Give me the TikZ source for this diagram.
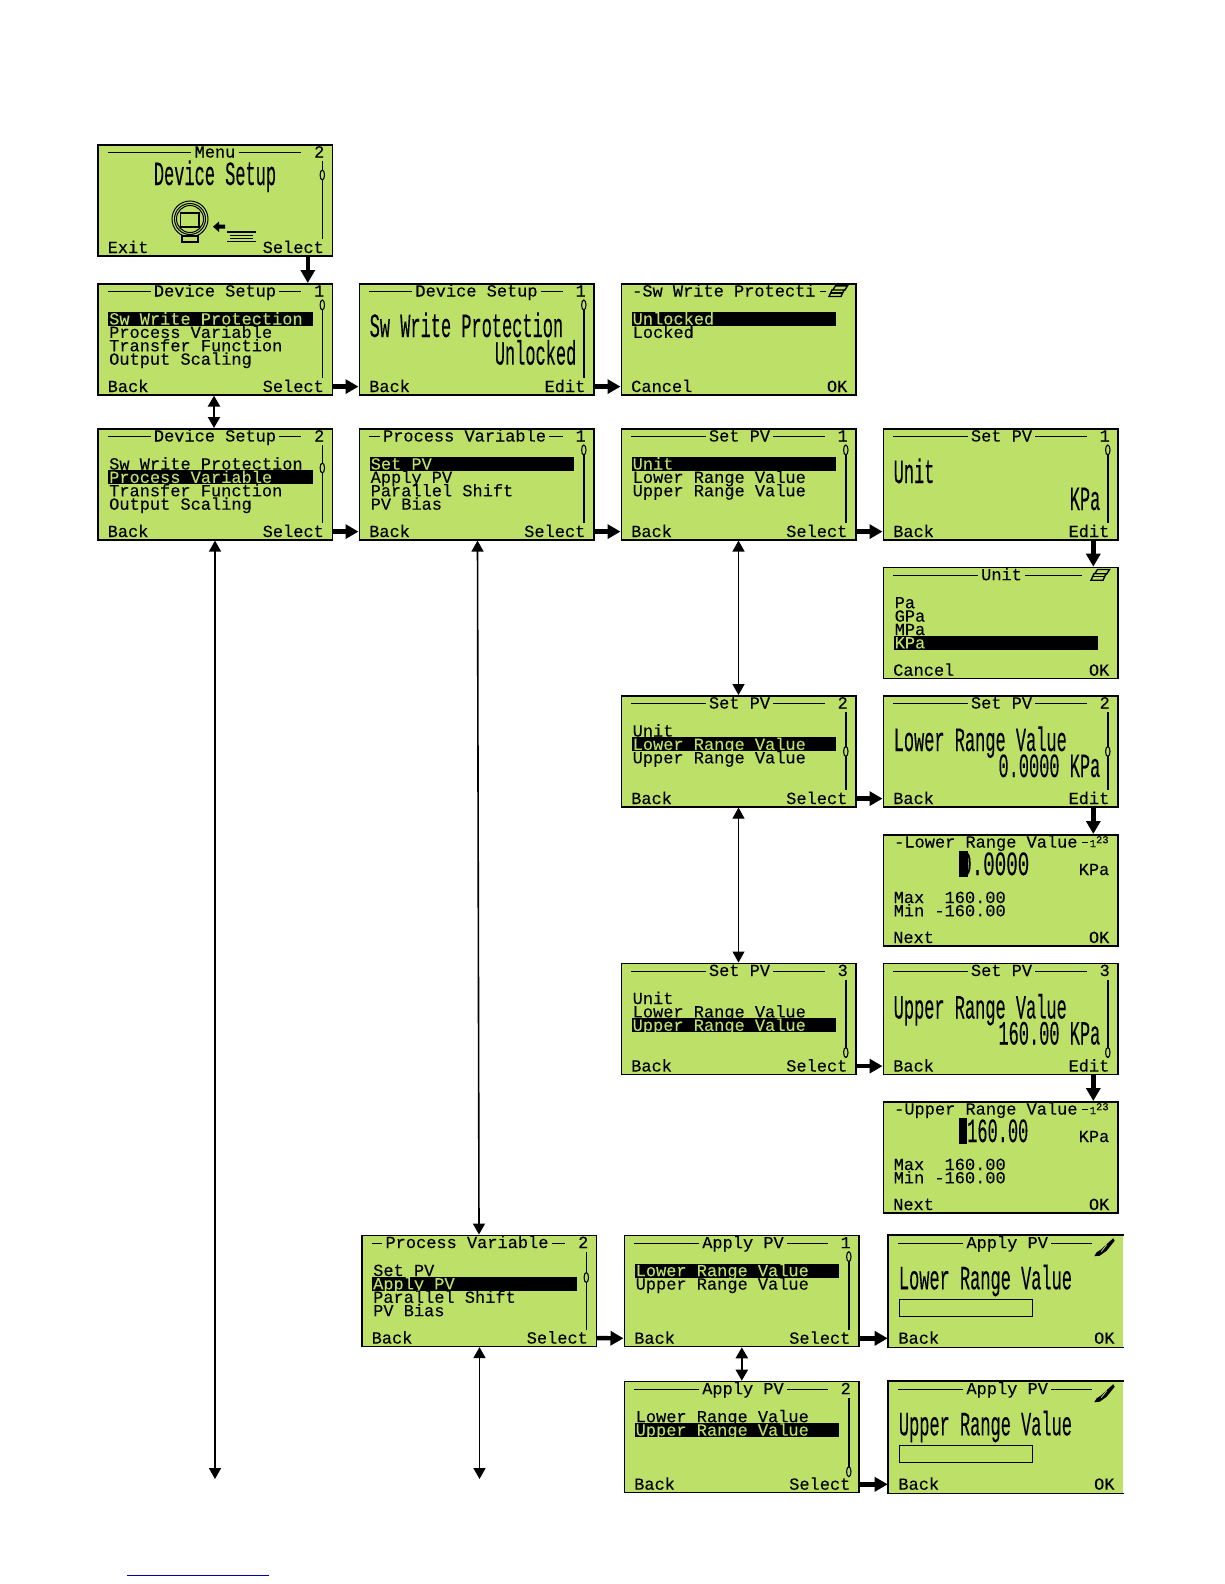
\documentclass[tikz,border=0pt]{standalone}
\usepackage{fontspec}
\usepackage{graphicx}
\setmainfont{Liberation Mono}[FakeBold=0.15]
\usetikzlibrary{arrows.meta,calc}
\definecolor{lcdg}{HTML}{BDE068}
\newcount\tn
\tikzset{
  lcd/.style={anchor=north west,minimum width=234.5pt,minimum height=111pt,inner sep=0pt,fill=lcdg,draw=black,line width=1.6pt},
  lcdopen/.style={lcd,draw=none},
  txt/.style={inner sep=0pt,font=\fontsize{16.97}{17}\selectfont,text=black},
  small/.style={inner sep=0pt,text=black},
  hl/.style={txt,text=lcdg},
  rule/.style={line width=1.4pt,black},
  big/.style={-{Triangle[length=13pt,width=14pt]},line width=4.4pt},
  dbl/.style={{Triangle[length=11pt,width=12pt]}-{Triangle[length=11pt,width=12pt]},line width=2.2pt},
  thin/.style={{Triangle[length=11pt,width=12pt]}-{Triangle[length=11pt,width=12pt]},line width=1.1pt}
}
\newcommand\Tx[4][txt]{\global\advance\tn by 1 \node[#1,#2] (t\the\tn) at (#3) {#4};}
\newcommand\Scr[4]{\node[lcd] (#1) at (#2,#3) {};\begin{scope}[shift={(#2,#3)}]#4\end{scope}}
\newcommand\ScrO[4]{\node[lcdopen] (#1) at (#2,#3) {};\draw[line width=1.6pt] (#1.north east) -- (#1.north west) -- (#1.south west) -- (#1.south east);\begin{scope}[shift={(#2,#3)}]#4\end{scope}}
\newcommand\Ttl[3][204]{\global\advance\tn by 1
  \node[txt,inner xsep=3pt,anchor=base] (t\the\tn) at (#2,13.5) {#3};
  \draw[rule] (10.5,8.7) -- (t\the\tn.west |- 0,8.7);
  \draw[rule] (t\the\tn.east |- 0,8.7) -- (#1,8.7);}
\newcommand\Num[1]{\Tx{anchor=base east}{227.5,13.5}{#1}}
\newcommand\Sb[3]{\draw[rule] (225.3,#1) -- (225.3,#2);\draw[line width=1.1pt,fill=lcdg] (225.3,#3) ellipse [x radius=2.2pt,y radius=5pt];}
\newcommand\Rw[2]{\Tx{anchor=base west}{12,{41.5+(#1-1)*13.4}}{#2}}
\newcommand\Hl[2]{\fill[black] (11,{29+(#1-1)*13.4}) rectangle (215.5,{43+(#1-1)*13.4});\Tx[hl]{anchor=base west}{12,{41.5+(#1-1)*13.4}}{#2}}
\newcommand\Keys[2]{\Tx{anchor=base west}{10.5,109}{#1}\Tx{anchor=base east}{227,109}{#2}}
\newcommand\BigL[2]{\Tx{anchor=base west}{11,#1}{\scalebox{1}[2]{#2}}}
\newcommand\BigR[2]{\Tx{anchor=base east}{218,#1}{\scalebox{1}[2]{#2}}}
\newcommand\Stack{\draw[line width=1.4pt,fill=lcdg] (215,2.8) -- (227,2.8) -- (224,7.5) -- (212,7.5) -- cycle;\draw[line width=1.4pt,fill=lcdg] (211.5,7) -- (223.5,7) -- (220.5,13.5) -- (208.5,13.5) -- cycle;\draw[line width=1.1pt] (210,10) -- (222,10);}
\newcommand\Pen{\fill (225.5,3.5) -- (227,6) -- (219,16) -- (212,21) -- (206.5,21.5) -- (209,17.5) -- (213,15) -- cycle;\draw[line width=.8pt,lcdg] (219,10) -- (213.5,17);}
\newcommand\OneTwo{\draw[rule] (199,8.7) -- (205,8.7);\Tx[small]{anchor=base west}{207,13}{\fontsize{10.5}{11}\selectfont 1\raisebox{3.8pt}{23}}}
\newcommand\Dash{\draw[rule] (199,8.7) -- (205,8.7);}

\begin{document}
\begin{tikzpicture}[x=1pt,y=-1pt]
\useasboundingbox (0,0) rectangle (1224,1584);
\fill[white] (0,0) rectangle (1224,1584);

\Scr{menu}{97}{144}{\Ttl{118}{Menu}\Num{2}\Sb{17}{95}{31}
  \Tx{anchor=base}{118,41}{\scalebox{1}[2]{Device Setup}}
  \draw[line width=1pt] (93,75) circle (18pt) (93,75) circle (15.5pt) (93,75) circle (13.5pt);
  \draw[line width=1.1pt] (83.5,69) rectangle (102,83);
  \draw[line width=1.1pt,fill=lcdg] (85,92) rectangle (101,98);
  \fill (116,82.7) -- (122,77.5) -- (122,80.7) -- (128,80.7) -- (128,84.7) -- (122,84.7) -- (122,88) -- cycle;
  \draw[line width=1.3pt] (130,88) -- (159,88) (133,91.3) -- (156,91.3) (133,94.5) -- (156,94.5) (130,97.8) -- (159,97.8);
  \Keys{Exit}{Select}}

\Scr{ds1}{97}{283}{\Ttl{118}{Device Setup}\Num{1}\Sb{17}{95}{22}
  \Hl{1}{Sw Write Protection}\Rw{2}{Process Variable}\Rw{3}{Transfer Function}\Rw{4}{Output Scaling}\Keys{Back}{Select}}
\Scr{ds2}{97}{428}{\Ttl{118}{Device Setup}\Num{2}\Sb{17}{95}{40}
  \Rw{1}{Sw Write Protection}\Hl{2}{Process Variable}\Rw{3}{Transfer Function}\Rw{4}{Output Scaling}\Keys{Back}{Select}}

\Scr{wp}{358.5}{283}{\Ttl{118}{Device Setup}\Num{1}\Sb{17}{95}{22}
  \BigL{54}{Sw Write Protection}\BigR{81.6}{Unlocked}\Keys{Back}{Edit}}
\Scr{pv1}{358.5}{428}{\Ttl{106}{Process Variable}\Num{1}\Sb{17}{95}{22}
  \Hl{1}{Set PV}\Rw{2}{Apply PV}\Rw{3}{Parallel Shift}\Rw{4}{PV Bias}\Keys{Back}{Select}}

\Scr{lk}{620.5}{283}{\Tx{anchor=base west}{11.5,13.5}{-Sw Write Protecti}\Dash\Stack
  \Hl{1}{Unlocked}\Rw{2}{Locked}\Keys{Cancel}{OK}}
\Scr{s1}{620.5}{428}{\Ttl{119}{Set PV}\Num{1}\Sb{17}{95}{22}
  \Hl{1}{Unit}\Rw{2}{Lower Range Value}\Rw{3}{Upper Range Value}\Keys{Back}{Select}}
\Scr{s2}{620.5}{695}{\Ttl{119}{Set PV}\Num{2}\Sb{17}{95}{56.5}
  \Rw{1}{Unit}\Hl{2}{Lower Range Value}\Rw{3}{Upper Range Value}\Keys{Back}{Select}}
\Scr{s3}{620.5}{962.5}{\Ttl{119}{Set PV}\Num{3}\Sb{17}{95}{90}
  \Rw{1}{Unit}\Rw{2}{Lower Range Value}\Hl{3}{Upper Range Value}\Keys{Back}{Select}}

\Scr{u1}{882.5}{428}{\Ttl{119}{Set PV}\Num{1}\Sb{17}{95}{22}
  \BigL{55}{Unit}\BigR{82}{KPa}\Keys{Back}{Edit}}
\Scr{unit}{882.5}{566.7}{\Ttl[199.5]{119}{Unit}\Stack
  \Rw{1}{Pa}\Rw{2}{GPa}\Rw{3}{MPa}\Hl{4}{KPa}\Keys{Cancel}{OK}}
\Scr{l1}{882.5}{695}{\Ttl{119}{Set PV}\Num{2}\Sb{17}{95}{56.5}
  \BigL{56}{Lower Range Value}\BigR{82}{0.0000 KPa}\Keys{Back}{Edit}}
\Scr{le}{882.5}{834}{\Tx{anchor=base west}{11.5,13.5}{-Lower Range Value}\OneTwo
  \Tx{anchor=base west}{77.5,41}{\scalebox{1.13}[2]{0.0000}}
  \fill (76,16.7) rectangle (85,42.7);
  \Tx{anchor=base east}{227,41}{KPa}
  \Tx{anchor=base west}{11,69}{Max\ \ 160.00}\Tx{anchor=base west}{11,82.3}{Min -160.00}\Keys{Next}{OK}}
\Scr{u3}{882.5}{962.5}{\Ttl{119}{Set PV}\Num{3}\Sb{17}{95}{90}
  \BigL{56}{Upper Range Value}\BigR{82}{160.00 KPa}\Keys{Back}{Edit}}
\Scr{ue}{882.5}{1101}{\Tx{anchor=base west}{11.5,13.5}{-Upper Range Value}\OneTwo
  \fill (76,16.7) rectangle (84,42.7);
  \Tx{anchor=base west}{84.5,41}{\scalebox{1}[2]{160.00}}
  \Tx{anchor=base east}{227,41}{KPa}
  \Tx{anchor=base west}{11,69}{Max\ \ 160.00}\Tx{anchor=base west}{11,82.3}{Min -160.00}\Keys{Next}{OK}}

\Scr{pv2}{361}{1234.5}{\Ttl{106}{Process Variable}\Num{2}\Sb{17}{95}{43}
  \Rw{1}{Set PV}\Hl{2}{Apply PV}\Rw{3}{Parallel Shift}\Rw{4}{PV Bias}\Keys{Back}{Select}}
\Scr{a1}{623.5}{1234.7}{\Ttl{119.5}{Apply PV}\Num{1}\Sb{17}{95}{22}
  \Hl{1}{Lower Range Value}\Rw{2}{Upper Range Value}\Keys{Back}{Select}}
\Scr{a2}{623.5}{1380.7}{\Ttl{119.5}{Apply PV}\Num{2}\Sb{17}{95}{91}
  \Rw{1}{Lower Range Value}\Hl{2}{Upper Range Value}\Keys{Back}{Select}}
\ScrO{al}{887.7}{1234.7}{\Ttl{119.5}{Apply PV}\Pen
  \BigL{54.6}{Lower Range Value}\draw[line width=1.1pt] (11.5,64.6) rectangle (145,82);\Keys{Back}{OK}}
\ScrO{au}{887.7}{1380.7}{\Ttl{119.5}{Apply PV}\Pen
  \BigL{54.6}{Upper Range Value}\draw[line width=1.1pt] (11.5,64.6) rectangle (145,82);\Keys{Back}{OK}}

\newcommand\HA[2]{\draw[big] ($(#1.south east)+(0,-9)$) -- ($(#2.south west)+(0,-9)$);}
\newcommand\VA[2]{\draw[big] ($(#1.south west)+(210.8,0)$) -- ($(#2.north west)+(210.8,0)$);}
\VA{menu}{ds1}
\HA{ds1}{wp}\HA{wp}{lk}
\HA{ds2}{pv1}\HA{pv1}{s1}\HA{s1}{u1}\HA{s2}{l1}\HA{s3}{u3}
\HA{pv2}{a1}\HA{a1}{al}\HA{a2}{au}
\VA{u1}{unit}\VA{l1}{le}\VA{u3}{ue}
\coordinate (e1) at (215,1479);
\coordinate (e2) at (479.5,1479);
\draw[dbl] ($(ds1.south west)+(117,0)$) -- ($(ds2.north west)+(117,0)$);
\draw[dbl,line width=1.6pt] ($(ds2.south west)+(118,0)$) -- (e1);
\draw[dbl,line width=1.6pt] ($(pv1.south west)+(119,0)$) -- ($(pv2.north west)+(118,0)$);
\draw[dbl,line width=1.6pt] ($(pv2.south west)+(118.5,0)$) -- (e2);
\draw[dbl,line width=1.6pt] ($(s1.south west)+(118,0)$) -- ($(s2.north west)+(118,0)$);
\draw[thin] ($(s2.south west)+(118,0)$) -- ($(s3.north west)+(118,0)$);
\draw[dbl] ($(a1.south west)+(118.3,0)$) -- ($(a2.north west)+(118.3,0)$);
\draw[line width=1pt,color={rgb,255:red,0;green,0;blue,170}] (127,1575) -- (269,1575);
\end{tikzpicture}
\end{document}
